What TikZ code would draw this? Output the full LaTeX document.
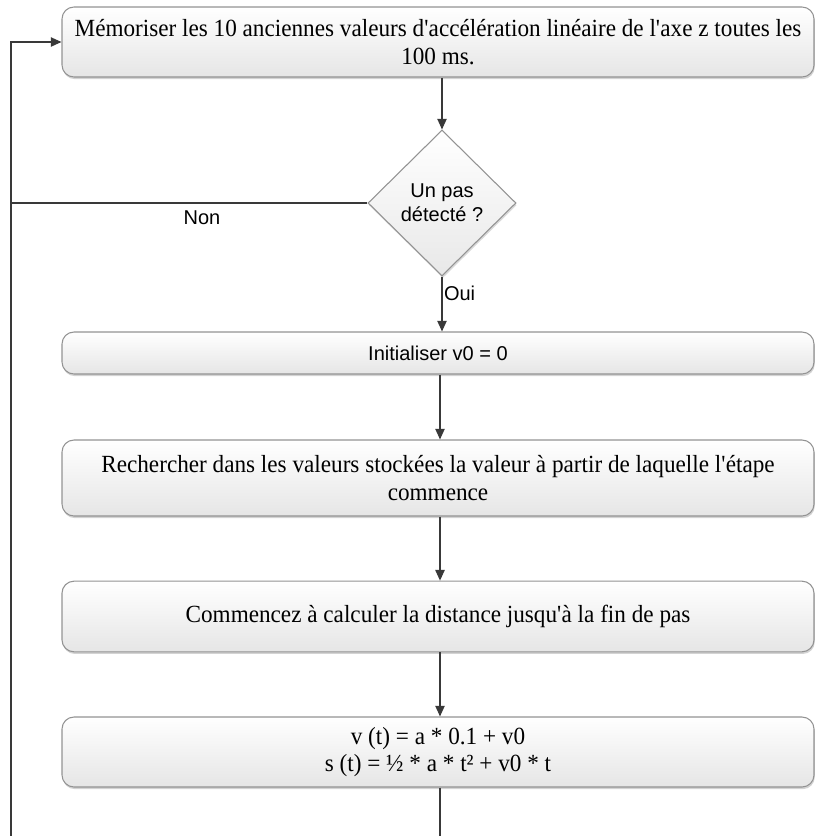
\documentclass[tikz,border=0pt]{standalone}
\usepackage{fontspec}
\setmainfont{Liberation Serif}[FakeStretch=0.94]
\newfontfamily\arialfont{Liberation Sans}
\usetikzlibrary{shapes.geometric, arrows.meta, shadows}
\tikzset{etape/.style={draw=gray!85, line width=0.8pt, rounded corners=9pt, top color=white, bottom color=gray!20, drop shadow={shadow xshift=0.6pt, shadow yshift=-1.6pt, opacity=0.35}, minimum width=564pt, inner sep=0pt, align=center, font=\fontsize{18.5}{20.5}\selectfont}}
\tikzset{choix/.style={diamond, draw=gray!85, line width=0.8pt, top color=white, bottom color=gray!18, drop shadow={shadow xshift=0.6pt, shadow yshift=-1.6pt, opacity=0.3}, minimum width=111pt, minimum height=109.5pt, inner sep=0pt, align=center, font=\arialfont\fontsize{15}{18}\selectfont}}
\tikzset{fleche/.style={draw=gray!45!black, line width=1pt, -{Triangle[length=8pt,width=7pt]}}}
\tikzset{trait/.style={draw=gray!45!black, line width=1pt}}
\tikzset{etiq/.style={font=\arialfont\fontsize{15}{18}\selectfont, inner sep=1pt}}

\begin{document}
\begin{tikzpicture}[x=0.75pt, y=-0.75pt]
\useasboundingbox (0,0) rectangle (816,836);
% etapes du calcul
\node[etape, minimum height=52.5pt] (memo) at (438,42) {Mémoriser les 10 anciennes valeurs d\textquotesingle accélération linéaire de l\textquotesingle axe z toutes les\\100 ms.};
\node[choix] (pas) at (442,203) {Un pas\\détecté ?};
\node[etape, minimum height=31.5pt, font=\arialfont\fontsize{15}{18}\selectfont] (init) at (438,353) {Initialiser v0 = 0};
\node[etape, minimum height=57pt] (cherche) at (438,478) {Rechercher dans les valeurs stockées la valeur à partir de laquelle l\textquotesingle étape\\commence};
\node[etape, minimum height=53pt] (debut) at (438,616.5) {Commencez à calculer la distance jusqu\textquotesingle à la fin de pas};
\node[etape, minimum height=52.5pt] (calc) at (438,752) {v (t) = a * 0.1 + v0\\s (t) = ½ * a * t² + v0 * t};
% bouclage
\coordinate (basgauche) at (11,836);
\coordinate (basmilieu) at (440,836);
% liens
\draw[fleche] (memo.south -| pas) -- (pas);
\draw[fleche] (pas) -- (init.north -| pas) node[etiq, pos=0.3, anchor=west] (oui) {Oui};
\draw[fleche] (init.south -| basmilieu) -- (cherche.north -| basmilieu);
\draw[fleche] (cherche.south -| basmilieu) -- (debut.north -| basmilieu);
\draw[fleche] (debut.south -| basmilieu) -- (calc.north -| basmilieu);
\draw[trait] (calc.south -| basmilieu) -- (basmilieu);
\draw[trait] (pas.west) -- (pas.west -| basgauche);
\node[etiq] (non) at (202,218) {Non};
\draw[fleche] (basgauche) |- (memo.west);
\end{tikzpicture}
\end{document}
